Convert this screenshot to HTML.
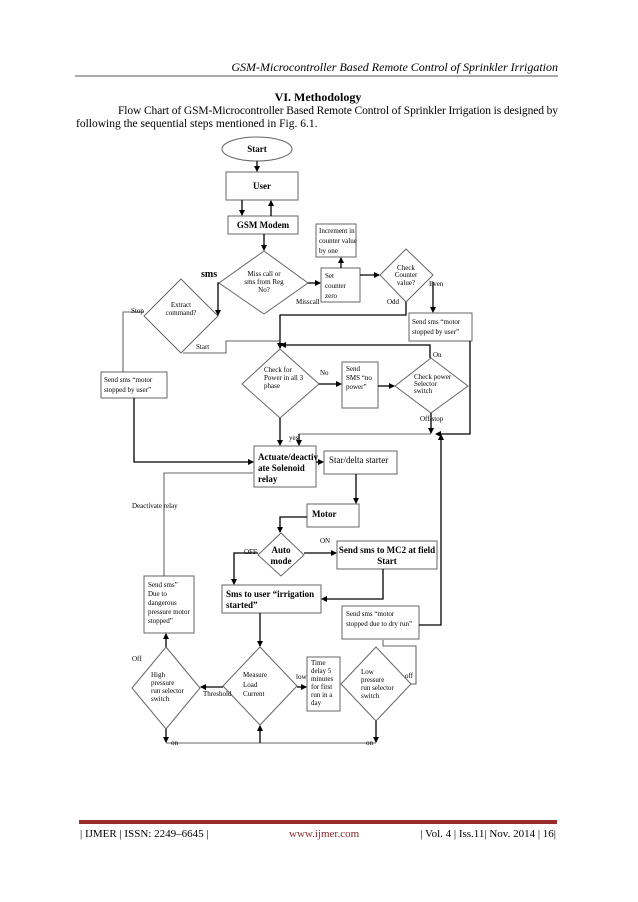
<!DOCTYPE html>
<html><head><meta charset="utf-8"><style>
html,body{margin:0;padding:0;background:#fff;}
svg{display:block;}
text{font-family:"Liberation Serif",serif;fill:#000;}
.s{font-size:7px;}
.m{font-size:9px;}
</style></head><body>
<svg width="638" height="902" viewBox="0 0 638 902" xmlns="http://www.w3.org/2000/svg">
<defs><marker id="a" markerWidth="6" markerHeight="6" refX="5" refY="3" orient="auto" markerUnits="userSpaceOnUse"><path d="M0,0 L6,3 L0,6z" fill="#000"/></marker></defs>
<text x="558" y="71" text-anchor="end" font-style="italic" font-size="12">GSM-Microcontroller Based Remote Control of Sprinkler Irrigation</text>
<line x1="75" y1="76" x2="558" y2="76" stroke="#555" stroke-width="1"/>
<text x="318" y="101" text-anchor="middle" font-weight="bold" font-size="12">VI.   Methodology</text>
<text x="118" y="114" font-size="11.5" textLength="440">Flow Chart of GSM-Microcontroller Based Remote Control of Sprinkler Irrigation is designed by</text>
<text x="76" y="127" font-size="11.5">following the sequential steps mentioned in Fig. 6.1.</text>

<g fill="none" stroke="#666" stroke-width="1">
<ellipse cx="257" cy="149" rx="35" ry="12"/>
<rect x="226" y="172" width="72" height="28"/>
<rect x="228" y="216" width="70" height="18"/>
<polygon points="264,251 308,283 264,314 219,283"/>
<polygon points="181,279 218,316 181,353 144,316"/>
<rect x="316" y="224" width="40" height="33"/>
<rect x="321" y="268" width="39" height="34"/>
<polygon points="406,249 433,275 406,302 380,275"/>
<rect x="409" y="313" width="63" height="28"/>
<rect x="101" y="372" width="66" height="26"/>
<polygon points="280,349 319,384 280,418 242,384"/>
<rect x="342" y="362" width="36" height="46"/>
<polygon points="431,358 468,386 431,413 395,386"/>
<rect x="254" y="446" width="62" height="41"/>
<rect x="324" y="451" width="73" height="23"/>
<rect x="307" y="504" width="52" height="23"/>
<polygon points="281,533 304,555 281,576 258,555"/>
<rect x="337" y="541" width="100" height="28"/>
<rect x="222" y="585" width="99" height="28"/>
<rect x="144" y="576" width="50" height="57"/>
<rect x="342" y="606" width="77" height="33"/>
<polygon points="260,647 297,686 260,725 223,686"/>
<polygon points="166,647 200,688 166,729 132,688"/>
<rect x="307" y="657" width="33" height="54"/>
<polygon points="376,647 411,684 376,721 341,684"/>
</g>

<g fill="none" stroke="#000" stroke-width="1.3">
<line x1="257" y1="161" x2="257" y2="171" marker-end="url(#a)"/>
<line x1="242" y1="200" x2="242" y2="215" marker-end="url(#a)"/>
<line x1="271" y1="216" x2="271" y2="201" marker-end="url(#a)"/>
<line x1="264" y1="234" x2="264" y2="250" marker-end="url(#a)"/>
<polyline points="219,283 218,283 218,315" marker-end="url(#a)"/>
<line x1="308" y1="283" x2="320" y2="283" marker-end="url(#a)"/>
<line x1="341" y1="268" x2="341" y2="258" marker-end="url(#a)"/>
<line x1="360" y1="275" x2="379" y2="275" marker-end="url(#a)"/>
<line x1="433" y1="282" x2="433" y2="312" marker-end="url(#a)"/>
<polyline points="406,302 406,315 280,315 280,348" marker-end="url(#a)"/>
<polyline points="430,358 430,345 281,345" marker-end="url(#a)"/>
<line x1="319" y1="384" x2="341" y2="384" marker-end="url(#a)"/>
<line x1="378" y1="386" x2="394" y2="386" marker-end="url(#a)"/>
<line x1="431" y1="413" x2="431" y2="433" marker-end="url(#a)"/>
<polyline points="470,341 470,434 436,434" marker-end="url(#a)"/>
<line x1="280" y1="418" x2="280" y2="445" marker-end="url(#a)"/>
<polyline points="134,398 134,462 253,462" marker-end="url(#a)"/>
<polyline points="299,434 299,445" marker-end="url(#a)"/>
<line x1="316" y1="462" x2="323" y2="462" marker-end="url(#a)"/>
<line x1="356" y1="474" x2="356" y2="503" marker-end="url(#a)"/>
<polyline points="307,517 280,517 280,532" marker-end="url(#a)"/>
<line x1="304" y1="553" x2="336" y2="553" marker-end="url(#a)"/>
<polyline points="258,553 234,553 234,584" marker-end="url(#a)"/>
<polyline points="383,569 383,599 322,599" marker-end="url(#a)"/>
<line x1="260" y1="613" x2="260" y2="646" marker-end="url(#a)"/>
<line x1="223" y1="687" x2="201" y2="687" marker-end="url(#a)"/>
<line x1="166" y1="647" x2="166" y2="634" marker-end="url(#a)"/>
<line x1="297" y1="687" x2="306" y2="687" marker-end="url(#a)"/>
<line x1="166" y1="729" x2="166" y2="742" marker-end="url(#a)"/>
<line x1="376" y1="721" x2="376" y2="742" marker-end="url(#a)"/>
<line x1="260" y1="743" x2="260" y2="726" marker-end="url(#a)"/>
<polyline points="419,625 441,625 441,435" marker-end="url(#a)"/>
</g>
<g fill="none" stroke="#333" stroke-width="0.8">
<polyline points="144,312 123,312 123,372"/>
<polyline points="183,353 226,353 226,341 280,341"/>
<line x1="299" y1="434" x2="431" y2="434"/>
<polyline points="164,576 164,473 253,473"/>
<polyline points="411,684 416,684 416,646 383,646 383,640"/>
<line x1="166" y1="743" x2="376" y2="743"/>
</g>

<g class="m">
<text x="257" y="152" text-anchor="middle" font-weight="bold">Start</text>
<text x="262" y="189" text-anchor="middle" font-weight="bold">User</text>
<text x="263" y="228" text-anchor="middle" font-weight="bold">GSM Modem</text>
<text x="201" y="277" font-weight="bold" font-size="10">sms</text>
<text x="258" y="460" font-weight="bold">Actuate/deactiv</text>
<text x="258" y="471" font-weight="bold">ate Solenoid</text>
<text x="258" y="482" font-weight="bold">relay</text>
<text x="329" y="463">Star/delta starter</text>
<text x="312" y="517" font-weight="bold">Motor</text>
<text x="281" y="553" text-anchor="middle" font-weight="bold">Auto</text>
<text x="281" y="564" text-anchor="middle" font-weight="bold">mode</text>
<text x="387" y="553" text-anchor="middle" font-weight="bold">Send sms to MC2 at field</text>
<text x="387" y="564" text-anchor="middle" font-weight="bold">Start</text>
<text x="226" y="597" font-weight="bold">Sms to user “irrigation</text>
<text x="226" y="608" font-weight="bold">started”</text>
</g>
<g class="s">
<text x="264" y="276" text-anchor="middle">Miss call or</text>
<text x="264" y="284" text-anchor="middle">sms from Reg</text>
<text x="264" y="292" text-anchor="middle">No?</text>
<text x="296" y="304">Misscall</text>
<text x="181" y="307" text-anchor="middle">Extract</text>
<text x="181" y="315" text-anchor="middle">command?</text>
<text x="131" y="313">Stop</text>
<text x="196" y="349">Start</text>
<text x="319" y="233">Increment in</text>
<text x="319" y="243">counter value</text>
<text x="319" y="253">by one</text>
<text x="325" y="278">Set</text>
<text x="325" y="288">counter</text>
<text x="325" y="298">zero</text>
<text x="406" y="270" text-anchor="middle">Check</text>
<text x="406" y="277" text-anchor="middle">Counter</text>
<text x="406" y="285" text-anchor="middle">value?</text>
<text x="429" y="286">Even</text>
<text x="387" y="304">Odd</text>
<text x="412" y="324">Send sms “motor</text>
<text x="412" y="334">stopped by user”</text>
<text x="104" y="382">Send sms “motor</text>
<text x="104" y="392">stopped by user”</text>
<text x="264" y="372">Check for</text>
<text x="264" y="380">Power in all 3</text>
<text x="264" y="388">phase</text>
<text x="320" y="375">No</text>
<text x="346" y="371">Send</text>
<text x="346" y="380">SMS “no</text>
<text x="346" y="389">power”</text>
<text x="414" y="379">Check power</text>
<text x="414" y="386">Selector</text>
<text x="414" y="393">switch</text>
<text x="433" y="357">On</text>
<text x="420" y="421">Off/stop</text>
<text x="289" y="440">yes</text>
<text x="132" y="508">Deactivate relay</text>
<text x="320" y="543">ON</text>
<text x="244" y="554">OFF</text>
<text x="148" y="587">Send sms”</text>
<text x="148" y="596">Due to</text>
<text x="148" y="605">dangerous</text>
<text x="148" y="614">pressure motor</text>
<text x="148" y="623">stopped”</text>
<text x="346" y="616">Send sms “motor</text>
<text x="346" y="626">stopped due to dry run”</text>
<text x="132" y="661">Off</text>
<text x="151" y="677">High</text>
<text x="151" y="685">pressure</text>
<text x="151" y="693">run selector</text>
<text x="151" y="701">switch</text>
<text x="243" y="677">Measure</text>
<text x="243" y="687">Load</text>
<text x="243" y="696">Current</text>
<text x="203" y="696">Threshold</text>
<text x="296" y="679">low</text>
<text x="311" y="665">Time</text>
<text x="311" y="673">delay 5</text>
<text x="311" y="681">minutes</text>
<text x="311" y="689">for first</text>
<text x="311" y="697">run in a</text>
<text x="311" y="705">day</text>
<text x="361" y="674">Low</text>
<text x="361" y="682">pressure</text>
<text x="361" y="690">run selector</text>
<text x="361" y="698">switch</text>
<text x="405" y="678">off</text>
<text x="171" y="745">on</text>
<text x="366" y="745">on</text>
</g>

<rect x="79" y="820" width="478" height="4" fill="#9b2c2c"/>
<text x="80" y="837" font-size="11">| IJMER | ISSN: 2249–6645 |</text>
<text x="289" y="837" font-size="11" style="fill:#8b2a2a">www.ijmer.com</text>
<text x="556" y="837" font-size="11" text-anchor="end">| Vol. 4 | Iss.11| Nov. 2014 | 16|</text>
</svg>
</body></html>
